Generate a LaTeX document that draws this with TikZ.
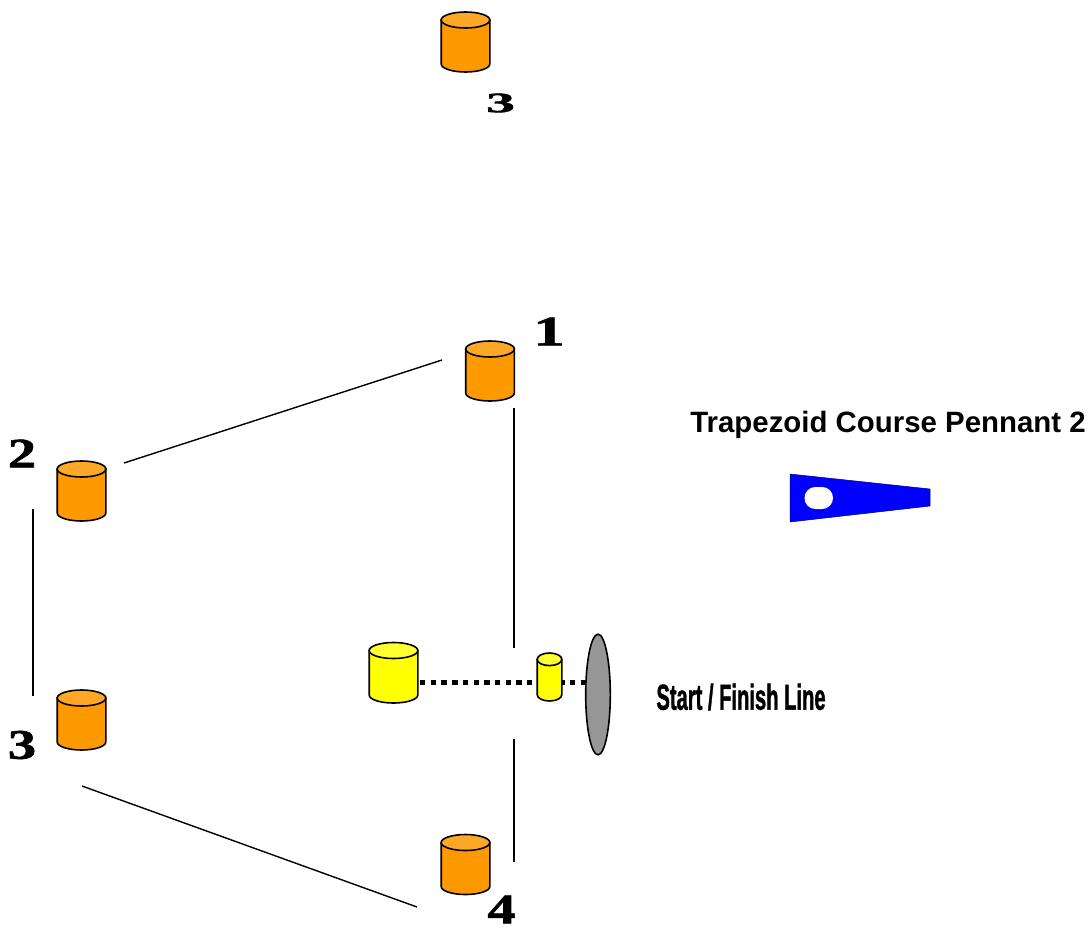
\documentclass[tikz,border=0pt]{standalone}
\usepackage{fontspec}
\usepackage{graphicx}
\setmainfont{Liberation Sans}
\newfontfamily\digitfont[BoldFeatures={FakeBold=1.2}]{Liberation Serif}
\newfontfamily\startfont[BoldFeatures={FakeBold=1.5}]{Liberation Sans}
\definecolor{buoyor}{HTML}{FF9900}
\definecolor{buoyortop}{HTML}{FFA726}
\definecolor{buoyye}{HTML}{FFFF00}
\definecolor{buoyyetop}{HTML}{FFFF33}
\definecolor{markgrey}{HTML}{969696}
\definecolor{flagblue}{HTML}{0000FF}
\tikzset{
  buoyline/.style={draw=black,line width=1.6pt},
  leg/.style={line width=1.4pt,black},
  startline/.style={line width=5pt,black,dash pattern=on 5.4pt off 5.3pt},
  num/.style={font=\digitfont\bfseries\fontsize{42}{42}\selectfont,inner sep=0pt},
}
% name, centre x, top y, radius x, height, radius y, body colour, top colour
\newcommand{\buoy}[8]{%
  \coordinate (#1) at (#2,#3+#5/2);
  \path[buoyline,fill=#7] (#2-#4,#3+#6) -- (#2-#4,#3+#5-#6)
    arc[start angle=180,end angle=360,x radius=#4,y radius=-#6]
    -- (#2+#4,#3+#6) -- cycle;
  \path[buoyline,fill=#8] (#2,#3+#6) ellipse[x radius=#4,y radius=#6];
}
\begin{document}
\begin{tikzpicture}[x=1pt,y=-1pt]
\useasboundingbox (0,0) rectangle (1091,927);
\coordinate (a1) at (442,360); \coordinate (a2) at (124,463);
\coordinate (b1) at (514,408); \coordinate (b2) at (514,648);
\coordinate (c1) at (514,739); \coordinate (c2) at (514,862);
\coordinate (d1) at (33,509);  \coordinate (d2) at (33,696);
\coordinate (e1) at (82,786);  \coordinate (e2) at (417,907);
\coordinate (f1) at (420,682); \coordinate (f2) at (587,682);
\draw[leg] (a1) -- (a2);
\draw[leg] (b1) -- (b2);
\draw[leg] (c1) -- (c2);
\draw[leg] (d1) -- (d2);
\draw[leg] (e1) -- (e2);
\draw[startline] (f1) -- (f2);
\buoy{top}{465.5}{12}{24.3}{60}{8}{buoyor}{buoyortop}
\buoy{m1}{490}{341}{24.3}{60}{8}{buoyor}{buoyortop}
\buoy{m2}{81.5}{461}{24.3}{60}{8}{buoyor}{buoyortop}
\buoy{m3}{81.5}{690}{24.3}{60}{8}{buoyor}{buoyortop}
\buoy{m4}{465.5}{834.5}{24.3}{60}{8}{buoyor}{buoyortop}
\buoy{pin}{393.5}{642.5}{24.3}{60.5}{8}{buoyye}{buoyyetop}
\buoy{boat}{549.5}{653}{12.3}{48}{6.3}{buoyye}{buoyyetop}
\path[buoyline,fill=markgrey] (598,694.5) ellipse[x radius=12.3,y radius=60.3];
\node[num,xscale=1.5] (n1) at (549,331.5) {1};
\node[num,xscale=1.35] (n2) at (22,453.5) {2};
\node[num,xscale=1.35] (n3) at (22,745) {3};
\node[num,xscale=1.35] (n4) at (501.5,909.5) {4};
\node[inner sep=0pt,font=\digitfont\bfseries\fontsize{33}{33}\selectfont] (n5) at (500.5,103) {\scalebox{1.75}[0.85]{3}};
\node[inner sep=0pt,font=\bfseries\fontsize{29.4}{30}\selectfont] (title) at (888,425) {Trapezoid Course Pennant 2};
\node[inner sep=0pt,font=\startfont\bfseries\fontsize{36}{36}\selectfont] (sf) at (741,697) {\scalebox{0.56}[1]{Start / Finish Line}};
\path[fill=flagblue,draw=black!50!flagblue,line width=.5pt] (790,474) -- (930,489) -- (930,506) -- (790,522) -- cycle;
\fill[white,rounded corners=10.9pt] (804.5,487) rectangle (833,509);
\end{tikzpicture}
\end{document}
